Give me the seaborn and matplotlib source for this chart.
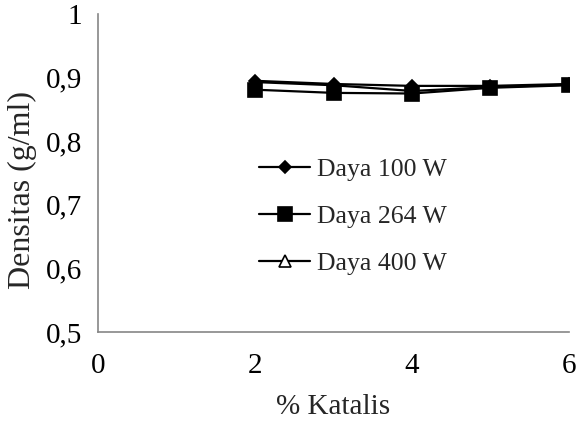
import matplotlib
matplotlib.use("Agg")
import matplotlib.pyplot as plt
import seaborn as sns
import pandas as pd

# Density of the product at each catalyst loading, for three microwave powers
katalis = [2, 3, 4, 5, 6]
daya_100 = [0.895, 0.890, 0.887, 0.887, 0.890]
daya_264 = [0.881, 0.876, 0.875, 0.884, 0.888]
daya_400 = [0.893, 0.888, 0.879, 0.885, 0.889]
series_names = ["Daya 100 W", "Daya 264 W", "Daya 400 W"]

df = pd.concat([
    pd.DataFrame({"Katalis": katalis, "Densitas": vals, "Seri": name})
    for name, vals in zip(series_names, [daya_100, daya_264, daya_400])
])

sns.set_style("white")
plt.rcParams["font.family"] = ["Liberation Serif", "DejaVu Serif"]

fig = plt.figure(figsize=(5.78, 4.21), dpi=100)
ax = fig.add_axes([0.1696, 0.2114, 0.8148, 0.7553])

styles = {
    "Daya 100 W": dict(marker="D", markersize=6.5, markerfacecolor="black", zorder=4),
    "Daya 264 W": dict(marker="s", markersize=9.5, markerfacecolor="black", zorder=3),
    "Daya 400 W": dict(marker="^", markersize=9, markerfacecolor="white", zorder=2),
}
for name in series_names:
    st = styles[name]
    sns.lineplot(data=df[df["Seri"] == name], x="Katalis", y="Densitas", ax=ax,
                 color="black", linewidth=1.6, label=name,
                 marker=st["marker"], markersize=st["markersize"],
                 markerfacecolor=st["markerfacecolor"], markeredgecolor="black",
                 markeredgewidth=1.2, zorder=st["zorder"], errorbar=None)

ax.set_xlim(0, 6)
ax.set_ylim(0.5, 1.0)
ax.set_xticks([0, 2, 4, 6])
ax.set_yticks([0.5, 0.6, 0.7, 0.8, 0.9, 1.0])
ax.set_yticklabels(["0,5", "0,6", "0,7", "0,8", "0,9", "1"])
ax.set_xticklabels(["0", "2", "4", "6"])
ax.tick_params(axis="both", labelsize=21, colors="#868686", labelcolor="black",
               direction="out", length=4, width=1.2, pad=7.5)
ax.tick_params(axis="x", pad=11)
for side in ["top", "right"]:
    ax.spines[side].set_visible(False)
for side in ["left", "bottom"]:
    ax.spines[side].set_color("#868686")
    ax.spines[side].set_linewidth(1.2)

ax.set_xlabel("% Katalis", fontsize=21, labelpad=11)
ax.set_ylabel("Densitas (g/ml)", fontsize=23)
ax.yaxis.set_label_coords(-0.13, 0.447)

ax.legend(loc="upper left", bbox_to_anchor=(0.342, 0.547), frameon=False,
          fontsize=18.5, handlelength=2.0, handletextpad=0.27, labelspacing=0.94,
          borderpad=0, borderaxespad=0)

fig.savefig("out.png", dpi=100)
